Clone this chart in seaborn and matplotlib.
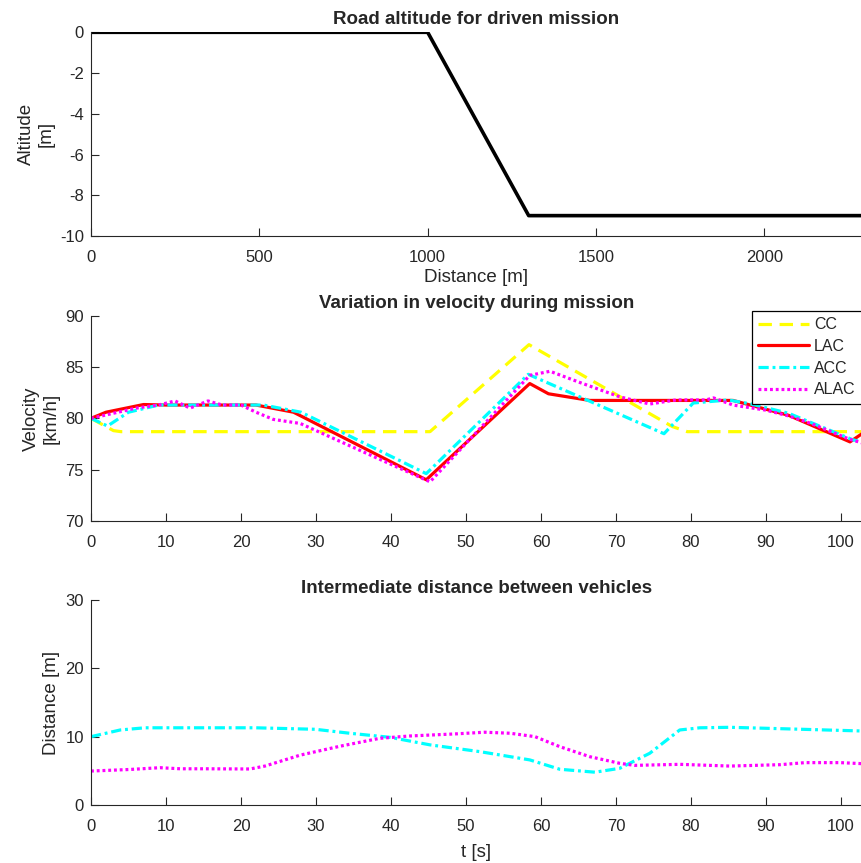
import matplotlib
matplotlib.use("Agg")
import matplotlib.pyplot as plt
import seaborn as sns
import numpy as np

# Road profile
road_dist = [0, 1000, 1300, 2290]
road_alt = [0, 0, -9, -9]

# Velocity traces [km/h] vs time [s]
cc_t = [0, 1.5, 3, 4, 45.2, 58.4, 77.5, 79.5, 102.8]
cc_v = [80, 79.4, 78.8, 78.7, 78.7, 87.2, 79.2, 78.7, 78.7]

lac_t = [0, 2, 4, 7, 10, 22, 27, 44.7, 58.5, 61, 66.5, 85.6, 93, 101.2, 102.8]
lac_v = [80, 80.6, 80.9, 81.35, 81.3, 81.3, 80.6, 74.0, 83.4, 82.4, 81.75, 81.75, 80.3, 77.7, 78.5]

acc_t = [0, 2.2, 5, 9, 23, 28, 44.7, 58.3, 76.4, 80.3, 85, 88, 93, 101.6, 102.8]
acc_v = [80, 79.25, 80.6, 81.3, 81.3, 80.6, 74.6, 84.3, 78.5, 81.5, 81.8, 81.4, 80.5, 77.9, 77.7]

alac_t = [0, 3, 6, 9, 11.2, 13.2, 15.6, 17.5, 20, 22, 24.3, 27.9, 38.5, 45.2, 58.5, 61.2,
          65.2, 70.5, 74.5, 78, 82, 83, 85.6, 90, 93.2, 96, 101, 102.8]
alac_v = [80, 80.5, 81.0, 81.3, 81.7, 81.0, 81.7, 81.3, 81.3, 80.6, 79.9, 79.5, 76.0, 73.8, 84.2, 84.6,
          83.5, 82.1, 81.4, 81.8, 81.8, 82.0, 81.3, 80.8, 80.2, 79.5, 78.0, 77.6]

# Gap to preceding vehicle [m]
gap_acc_t = [0, 3.9, 7.2, 21.9, 29.9, 34.5, 39.9, 45.2, 51.9, 58.5, 62.5, 67.2, 70.5, 74.5,
             78.5, 81.2, 85.2, 91.9, 102.8]
gap_acc_d = [10.0, 10.98, 11.3, 11.3, 11.08, 10.5, 9.9, 8.8, 7.8, 6.6, 5.23, 4.8, 5.37, 7.57,
             10.98, 11.3, 11.37, 11.17, 10.83]

gap_alac_t = [0, 5.2, 9.2, 11.9, 15.2, 21.2, 23.2, 27.9, 33.2, 38.5, 42.5, 48.5, 52.5, 55.9,
              59.2, 62.5, 66.5, 70.5, 72.5, 78.5, 85.2, 91.9, 95.2, 99.9, 102.8]
gap_alac_d = [4.97, 5.2, 5.46, 5.3, 5.3, 5.27, 5.7, 7.3, 8.6, 9.76, 10.1, 10.4, 10.65, 10.5,
              10.0, 8.54, 7.07, 6.1, 5.8, 5.95, 5.7, 5.9, 6.2, 6.2, 6.05]

sns.set_theme(style="ticks")
plt.rcParams["font.family"] = ["Liberation Sans", "DejaVu Sans"]
ink = "#262626"
plt.rcParams.update({
    "axes.unicode_minus": False,
    "axes.edgecolor": ink, "axes.linewidth": 0.8,
    "xtick.color": ink, "ytick.color": ink,
    "xtick.labelcolor": ink, "ytick.labelcolor": ink,
    "xtick.direction": "in", "ytick.direction": "in",
    "xtick.major.size": 5.5, "ytick.major.size": 5.5,
    "xtick.major.width": 0.8, "ytick.major.width": 0.8,
    "xtick.labelsize": 12, "ytick.labelsize": 12,
    "axes.labelcolor": ink, "axes.labelsize": 13.5,
})

fig = plt.figure(figsize=(8.62, 8.63), dpi=100)
left = 91 / 862
W, H = 862, 863

def box(top, bottom):
    return [left, 1 - bottom / H, 1 - left, (bottom - top) / H]

ax1 = fig.add_axes(box(32.3, 236))
ax2 = fig.add_axes(box(316, 520.7))
ax3 = fig.add_axes(box(600, 805))

lw = 2.3
styles = {
    "CC": dict(color="#ffff00", linestyle=(0, (4.2, 2.4))),
    "LAC": dict(color="#ff0000", linestyle="-"),
    "ACC": dict(color="#00ffff", linestyle=(0, (3.2, 1.2, 0.9, 1.2))),
    "ALAC": dict(color="#ff00ff", linestyle=(0, (0.9, 0.9))),
}

# Altitude
sns.lineplot(x=road_dist, y=road_alt, ax=ax1, color="black", linewidth=2.6)
ax1.set_xlim(0, 2290)
ax1.set_ylim(-10, 0)
ax1.set_yticks(np.arange(-10, 1, 2))
ax1.set_xticks([0, 500, 1000, 1500, 2000])
ax1.set_title("Road altitude for driven mission", fontsize=13.5, fontweight="bold", pad=6)
ax1.set_xlabel("Distance [m]", labelpad=3)
ax1.set_ylabel("Altitude\n[m]")

# Velocity
for name, t, v in [("CC", cc_t, cc_v), ("LAC", lac_t, lac_v),
                   ("ACC", acc_t, acc_v), ("ALAC", alac_t, alac_v)]:
    sns.lineplot(x=t, y=v, ax=ax2, linewidth=lw, label=name,
                 dash_capstyle="butt", **styles[name])
ax2.set_xlim(0, 102.8)
ax2.set_ylim(70, 90)
ax2.set_xticks(np.arange(0, 101, 10))
ax2.set_yticks([70, 75, 80, 85, 90])
ax2.set_title("Variation in velocity during mission", fontsize=13.5, fontweight="bold", pad=6)
ax2.set_ylabel("Velocity\n[km/h]")
leg = ax2.legend(loc="upper right", bbox_to_anchor=(1.0, 1.025), fontsize=11.5,
                 frameon=True, fancybox=False, framealpha=1, edgecolor="black",
                 handlelength=3.2, labelspacing=0.42, borderpad=0.4,
                 handletextpad=0.3, borderaxespad=0)
leg.get_frame().set_linewidth(0.9)

# Distance
sns.lineplot(x=gap_acc_t, y=gap_acc_d, ax=ax3, linewidth=lw, dash_capstyle="butt", **styles["ACC"])
sns.lineplot(x=gap_alac_t, y=gap_alac_d, ax=ax3, linewidth=lw, dash_capstyle="butt", **styles["ALAC"])
ax3.set_xlim(0, 102.8)
ax3.set_ylim(0, 30)
ax3.set_xticks(np.arange(0, 101, 10))
ax3.set_yticks([0, 10, 20, 30])
ax3.set_title("Intermediate distance between vehicles", fontsize=13.5, fontweight="bold", pad=5)
ax3.set_xlabel("t [s]", labelpad=7)
ax3.set_ylabel("Distance [m]")

for ax in (ax1, ax2, ax3):
    sns.despine(ax=ax)
    ax.tick_params(axis="y", pad=5)
    ax.tick_params(axis="x", pad=10)

fig.savefig("out.png", dpi=100)
